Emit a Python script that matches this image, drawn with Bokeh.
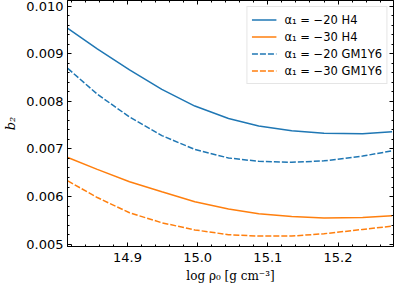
from bokeh.plotting import figure
from bokeh.models import LinearAxis, Range1d, Legend, LegendItem, FixedTicker, NumeralTickFormatter
from bokeh.embed import file_html
from bokeh.resources import INLINE

# data
log_rho = [14.815, 14.857, 14.903, 14.949, 14.996, 15.044, 15.087, 15.134, 15.180, 15.235, 15.277]
b2_m20_H4 = [0.00953, 0.00910, 0.00866, 0.00825, 0.00790, 0.00764, 0.00748, 0.00738, 0.00733, 0.00732, 0.00736]
b2_m30_H4 = [0.00682, 0.00657, 0.00631, 0.00610, 0.00589, 0.00574, 0.00564, 0.00558, 0.00555, 0.00556, 0.00560]
b2_m20_GM = [0.00869, 0.00815, 0.00767, 0.00728, 0.00699, 0.00681, 0.00674, 0.00672, 0.00675, 0.00685, 0.00696]
b2_m30_GM = [0.00633, 0.00598, 0.00566, 0.00545, 0.00530, 0.00520, 0.00517, 0.00517, 0.00522, 0.00531, 0.00538]
labels = ["α₁ = −20 H4", "α₁ = −30 H4", "α₁ = −20 GM1Y6", "α₁ = −30 GM1Y6"]
x_ticks = [14.9, 15.0, 15.1, 15.2]
y_ticks = [0.005, 0.006, 0.007, 0.008, 0.009, 0.010]

BLUE = "#1f77b4"
ORANGE = "#ff7f0e"

p = figure(width=399, height=290, output_backend="svg", toolbar_location=None,
           x_range=Range1d(14.8146, 15.279), y_range=Range1d(0.004952, 0.010116),
           min_border_left=59, min_border_right=6, min_border_top=0, min_border_bottom=44)
p.background_fill_color = "white"
p.border_fill_color = "white"
p.outline_line_color = "black"
p.outline_line_width = 1
p.grid.visible = False

r1 = p.line(log_rho, b2_m20_H4, line_color=BLUE, line_width=1.5)
r2 = p.line(log_rho, b2_m30_H4, line_color=ORANGE, line_width=1.5)
r3 = p.line(log_rho, b2_m20_GM, line_color=BLUE, line_width=1.5, line_dash="6 2")
r4 = p.line(log_rho, b2_m30_GM, line_color=ORANGE, line_width=1.5, line_dash="6 2")

def style_axis(ax, show_labels=True):
    ax.major_tick_in = 4
    ax.major_tick_out = 0
    ax.minor_tick_in = 2
    ax.minor_tick_out = 0
    ax.axis_line_color = "black"
    ax.major_tick_line_color = "black"
    ax.minor_tick_line_color = "black"
    ax.major_label_text_font = "DejaVu Sans"
    ax.major_label_text_font_size = "13px"
    ax.major_label_text_color = "black"
    ax.axis_label_text_color = "black"
    if not show_labels:
        ax.major_label_text_font_size = "0px"
        ax.major_label_text_color = None

x_minor = [14.82 + 0.02 * i for i in range(24)]
y_minor = [0.0050 + 0.0002 * i for i in range(27)]

xa = p.xaxis[0]
xa.ticker = FixedTicker(ticks=x_ticks, minor_ticks=x_minor)
style_axis(xa)
xa.formatter = NumeralTickFormatter(format="0.0")
xa.major_label_standoff = 6
xa.axis_label = "log ρ₀ [g cm⁻³]"
xa.axis_label_text_font = "DejaVu Serif"
xa.axis_label_text_font_style = "normal"
xa.axis_label_text_font_size = "12px"
xa.axis_label_standoff = 4

ya = p.yaxis[0]
ya.ticker = FixedTicker(ticks=y_ticks, minor_ticks=y_minor)
style_axis(ya)
ya.formatter = NumeralTickFormatter(format="0.000")
ya.major_label_standoff = 4
ya.axis_label = "b₂"
ya.axis_label_text_font = "DejaVu Serif"
ya.axis_label_text_font_style = "italic"
ya.axis_label_text_font_size = "13px"
ya.axis_label_standoff = 5

ra = LinearAxis(ticker=FixedTicker(ticks=y_ticks, minor_ticks=y_minor))
style_axis(ra, show_labels=False)
ra.major_label_standoff = 0
p.add_layout(ra, "right")
ta = LinearAxis(ticker=FixedTicker(ticks=x_ticks, minor_ticks=x_minor))
style_axis(ta, show_labels=False)
ta.major_label_standoff = 0
p.add_layout(ta, "above")

legend = Legend(items=[LegendItem(label=labels[0], renderers=[r1]),
                       LegendItem(label=labels[1], renderers=[r2]),
                       LegendItem(label=labels[2], renderers=[r3]),
                       LegendItem(label=labels[3], renderers=[r4])],
                location="top_right")
legend.label_text_font = "DejaVu Sans"
legend.label_text_font_size = "11.5px"
legend.label_text_color = "black"
legend.label_height = 17
legend.glyph_height = 17
legend.glyph_width = 25
legend.label_standoff = 8
legend.spacing = 0
legend.padding = 4
legend.margin = 6
legend.border_line_color = "#cccccc"
legend.border_line_width = 1
legend.background_fill_alpha = 0.8
p.add_layout(legend)

open("out.html", "w").write(file_html(p, INLINE))
